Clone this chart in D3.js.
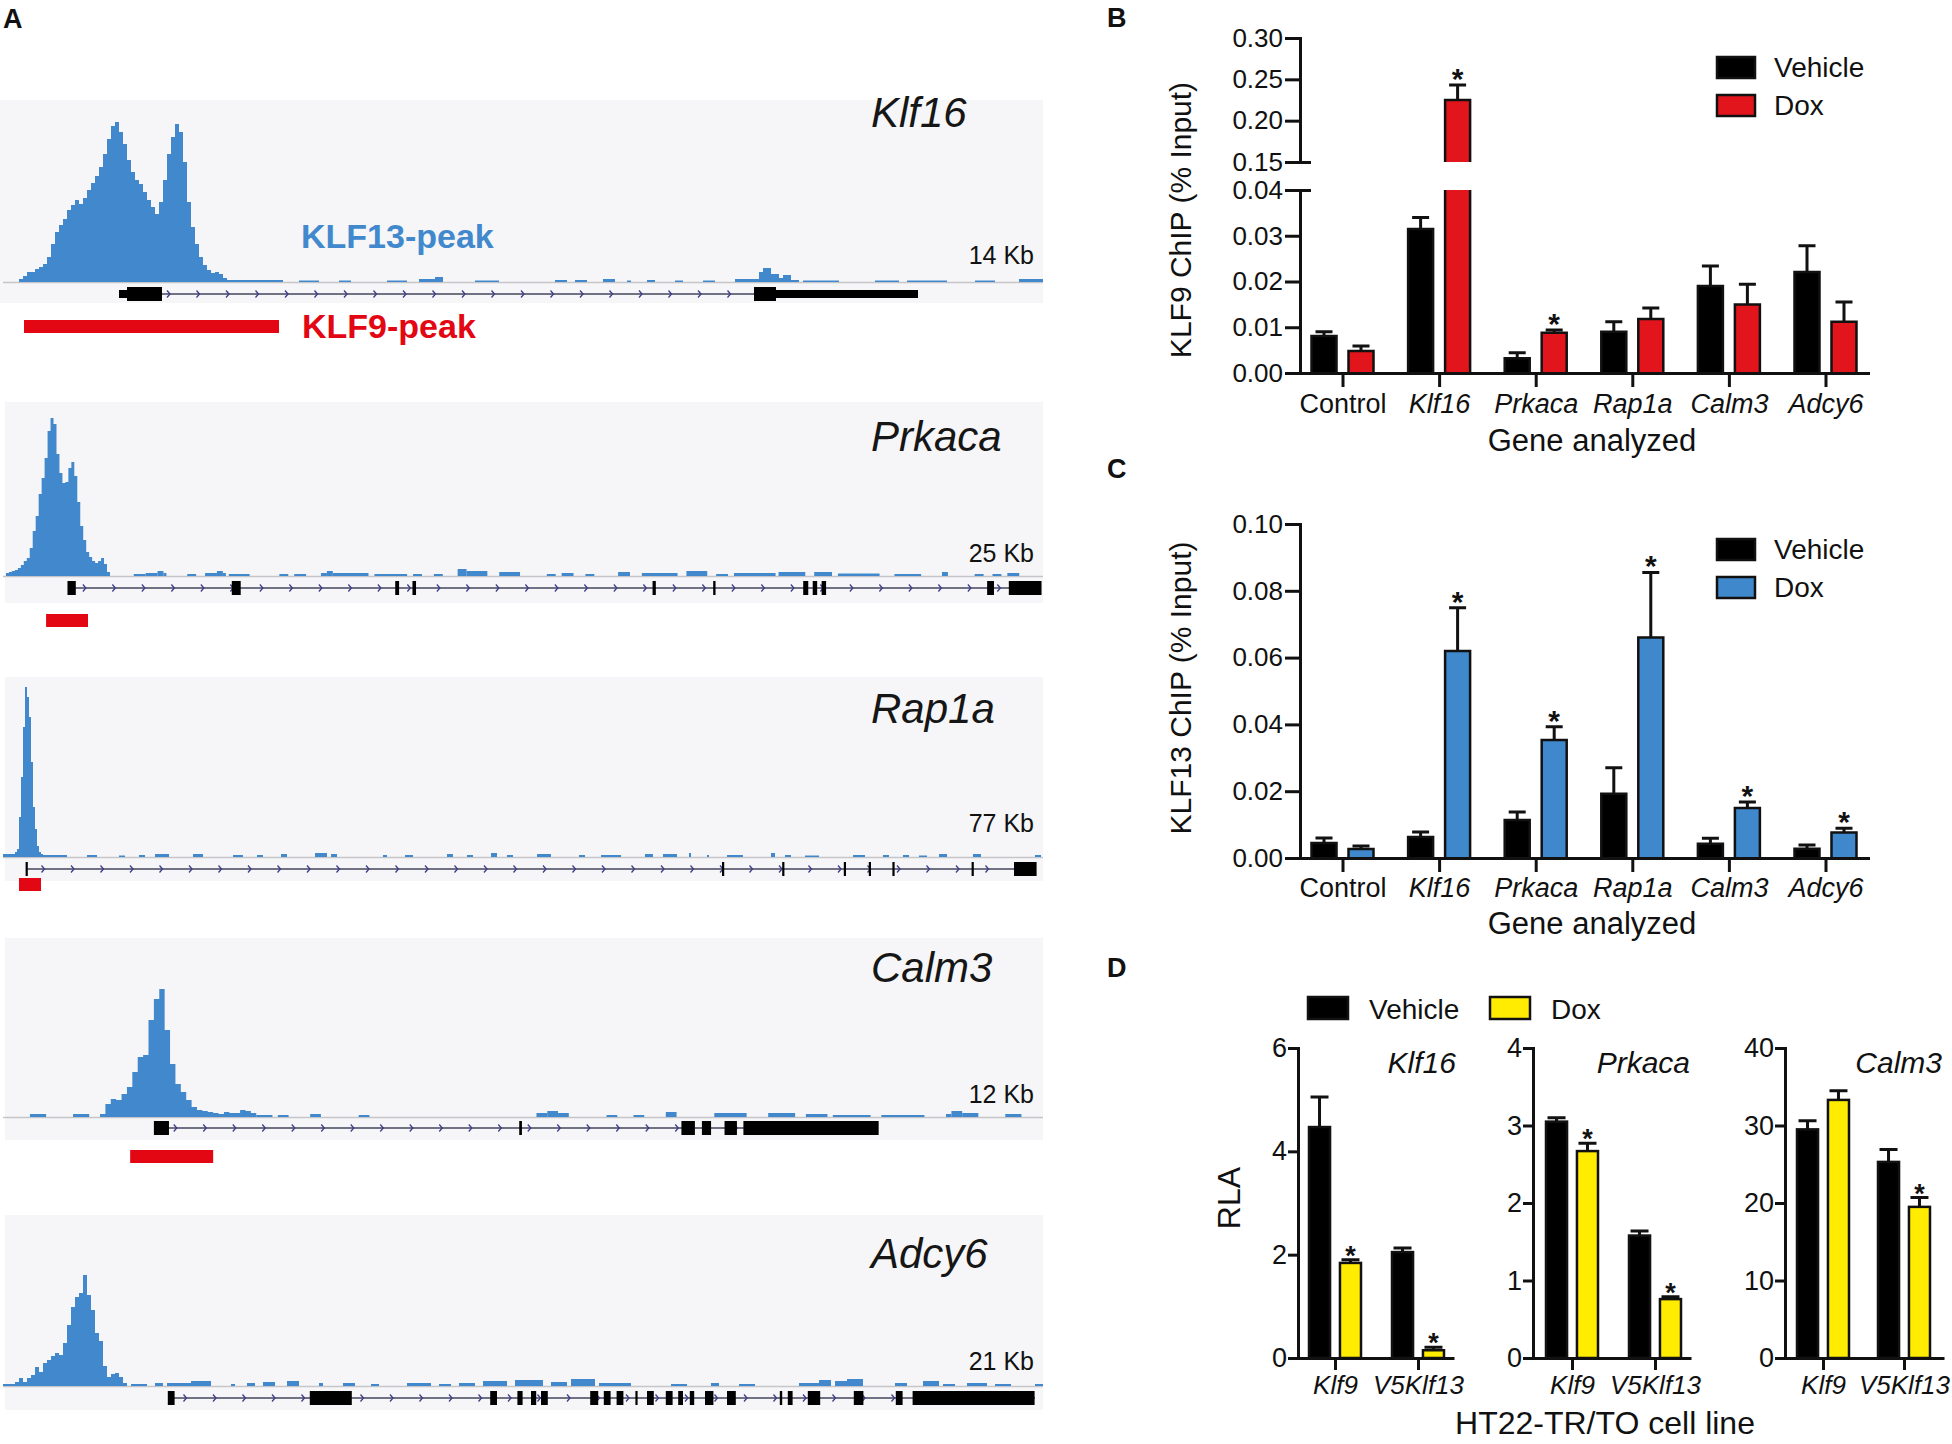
<!DOCTYPE html>
<html>
<head>
<meta charset="utf-8" />
<title>KLF9 / KLF13 binding</title>
<script src="https://cdn.jsdelivr.net/npm/d3@7"></script>
<style>
  body { margin: 0; background: #fff; }
  svg text { font-family: "Liberation Sans", Arial, Helvetica, sans-serif; }
</style>
</head>
<body>
<svg id="fig" width="1952" height="1444"></svg>
<script>
// ---------- panel A : coverage tracks (bins) ----------
const klf16Peak = [3,6,10,10,13,15,18,25,38,50,57,63,72,77,82,78,84,92,99,106,115,128,143,156,160,150,138,122,110,102,98,90,82,75,68,80,102,128,145,158,150,120,80,55,38,25,17,12,9,10,8,4,2,2];
const klf16Noise = [[58,70,2],[74,79,1.5],[84,87,1.5],[96,101,1.5],[104,108,3],[108,110,5],[118,124,1.5],[138,141,2],[143,146,2],[150,153,3],[156,157,1.5],[161,163,2],[168,170,1.5],[175,178,1.5],[183,189,3],[189,190,10],[190,192,14],[192,194,8],[194,195,4],[195,197,7],[197,199,2],[200,209,1.5],[218,224,1.5],[226,236,1.5],[243,248,1.5],[254,260,3]];
const klf16Exons = [[29,31,"u"],[31,39.75,"c"],[187.75,193.25,"c"],[193.25,228.75,"u"]];

const prkacaPeak = [3,4,5,6,8,11,15,18,28,45,60,82,98,118,145,158,152,122,103,93,94,108,114,100,74,50,36,24,19,15,13,15,18,12,4];
const prkacaNoise = [[44,48,2],[48,52,3],[52,54,5],[54,55,3],[62,65,2],[68,72,3],[72,74,5],[74,75,3],[76,83,2],[93,96,2],[98,102,2],[107,109,3],[109,111,5],[111,123,3],[125,136,2],[138,141,2],[145,148,2],[153,156,7],[156,163,5],[167,174,4],[183,186,2],[188,192,3],[196,199,2],[207,211,4],[215,227,3],[230,237,5],[240,244,2],[246,260,3],[261,270,4],[273,279,4],[281,295,2.5],[300,309,2],[316,318,4],[327,330,2],[333,336,2],[338,342,3]];
const prkacaExons = [[21.7,24.5,"c"],[77,80,"c"],[132,133.3,"c"],[137.8,139,"c"],[218.6,219.7,"c"],[239,239.8,"c"],[269.3,271,"c"],[272.5,274,"c"],[275.5,277,"c"],[331.2,333.5,"c"],[338.5,349.5,"c"]];

const rap1aPeak = [3,5,8,40,80,130,170,160,140,95,50,28,11,5,3];
const rap1aNoise = [[0,5,3],[19,32,2],[42,47,2],[58,61,1.5],[68,71,2],[76,83,3],[95,100,3],[115,120,2],[127,130,2],[139,142,3],[156,162,4],[164,167,3],[190,192,2],[201,205,2],[222,225,3],[232,235,2],[244,247,4],[252,255,2],[267,274,3],[288,291,2],[299,309,2],[321,325,3],[330,337,3],[343,344,4],[352,353,2],[362,370,2],[384,386,4],[391,394,2],[401,408,1.5],[425,431,2],[440,443,2],[450,453,2],[458,462,1.5],[468,472,3],[485,489,3],[516,519,2]];
const rap1aExons = [[11.3,12,"c"],[359.5,360.3,"c"],[389.6,390.4,"c"],[420.4,421.2,"c"],[432.9,433.7,"c"],[444.7,445.5,"c"],[484.3,485.1,"c"],[505.5,516.8,"c"]];

const calm3Peak = [3,13,18,17,23,30,45,60,62,97,118,128,87,53,33,25,17,10,7,6,5,4,3,5,4,4,7,6,4];
const calm3Noise = [[5,8,3],[13,16,3],[47,50,2],[51,53,2],[57,59,3],[66,68,2],[99,101,4],[101,103,6],[103,105,4],[112,114,2],[117,119,2],[123,125,5],[132,138,4],[142,147,4],[149,153,3],[154,161,2],[163,171,2],[175,176,3],[176,178,6],[178,181,4],[186,189,3]];
const calm3Exons = [[28,30.8,"c"],[95.8,96.3,"c"],[125.9,128.4,"c"],[129.7,131.4,"c"],[133.9,136.2,"c"],[137.4,162.5,"c"]];

const adcy6Peak = [2,2,2,4,8,4,8,11,19,14,23,26,30,33,31,43,61,79,89,93,111,91,76,53,45,20,9,12,13,9,3];
const adcy6Noise = [[32,36,2],[38,40,3],[41,47,3],[47,52,5],[57,58,2],[61,63,3],[65,68,4],[71,74,5],[79,80,3],[85,88,3],[92,94,2],[101,107,3],[109,112,2],[114,118,3],[120,126,5],[128,135,6],[137,141,4],[142,148,7],[149,157,3],[167,171,2],[177,179,3],[184,188,2],[199,204,3],[204,207,6],[208,211,5],[211,215,7],[223,226,3],[230,234,5],[235,238,2],[241,246,3],[248,252,2],[258,260,2]];
const adcy6Exons = [[41.2,42.9,"c"],[76.7,87.2,"c"],[121.8,123.5,"c"],[128.6,129.9,"c"],[132,133.3,"c"],[134.5,136.2,"c"],[146.8,148.8,"c"],[150.2,151.9,"c"],[153.4,155.1,"c"],[158.1,158.5,"c"],[161,162.7,"c"],[165.7,167.4,"c"],[168.8,170,"c"],[171.7,172.8,"c"],[175.5,177.6,"c"],[181,183.2,"c"],[194.2,194.8,"c"],[196.2,197.4,"c"],[201.2,204.3,"c"],[212.7,215.1,"c"],[223.2,224.9,"c"],[227.4,257.9,"c"]];

const trackGenes = ["Klf16", "Prkaca", "Rap1a", "Calm3", "Adcy6"];
const trackSpans = ["14 Kb", "25 Kb", "77 Kb", "12 Kb", "21 Kb"];
const trackBins = [260, 350, 520, 193, 260];
const peakStarts = [4, 1, 5, 18, 0];
const peaks = [klf16Peak, prkacaPeak, rap1aPeak, calm3Peak, adcy6Peak];
const noises = [klf16Noise, prkacaNoise, rap1aNoise, calm3Noise, adcy6Noise];
const exons = [klf16Exons, prkacaExons, rap1aExons, calm3Exons, adcy6Exons];
const introns = [[30,228], [22,349], [12,516], [29,137.5], [41.5,258]];
const klf9Peaks = [[5.25,69], [14.5,28.6], [8,19], [23.6,39], null];

// ---------- panels B, C : ChIP ----------
const genes = ["Control", "Klf16", "Prkaca", "Rap1a", "Calm3", "Adcy6"];
const conds = ["Vehicle", "Dox"];
const klf9Veh    = [0.0081, 0.0315, 0.0032, 0.0090, 0.0190, 0.0221];
const klf9VehSem = [0.0009, 0.0025, 0.0012, 0.0022, 0.0044, 0.0057];
const klf9Dox    = [0.0048, 0.225, 0.0088, 0.0118, 0.0150, 0.0112];
const klf9DoxSem = [0.0011, 0.018, 0.0006, 0.0024, 0.0044, 0.0043];
const klf9DoxStar = [false, true, true, false, false, false];
const klf9TicksLow = [0, 0.01, 0.02, 0.03, 0.04];
const klf9TicksUp = [0.15, 0.20, 0.25, 0.30];

const klf13Veh    = [0.0045, 0.0063, 0.0114, 0.0192, 0.0043, 0.0028];
const klf13VehSem = [0.0015, 0.0015, 0.0024, 0.0078, 0.0016, 0.0011];
const klf13Dox    = [0.0027, 0.062, 0.0353, 0.066, 0.0150, 0.0076];
const klf13DoxSem = [0.0009, 0.0129, 0.0040, 0.0195, 0.0018, 0.0013];
const klf13DoxStar = [false, true, true, true, true, true];
const klf13Ticks = [0, 0.02, 0.04, 0.06, 0.08, 0.10];

// ---------- panel D : RLA ----------
const targets = ["Klf9", "V5Klf13"];
const rlaGenes = ["Klf16", "Prkaca", "Calm3"];
const rlaTicks = [[0,2,4,6], [0,1,2,3,4], [0,10,20,30,40]];
const rlaVeh    = [[4.47, 2.05], [3.05, 1.58], [29.5, 25.3]];
const rlaVehSem = [[0.58, 0.08], [0.05, 0.06], [1.1, 1.6]];
const rlaDox    = [[1.84, 0.15], [2.67, 0.76], [33.3, 19.5]];
const rlaDoxSem = [[0.06, 0.06], [0.10, 0.03], [1.2, 1.2]];
const rlaDoxStar = [[true, true], [true, true], [false, true]];

// ---------- drawing ----------
const INK = "#111";
const BLUE = "#4189cc";
const RED = "#e30613";
const YELLOW = "#ffec00";
const svg = d3.select("#fig");

function txt(g, x, y, s, o = {}) {
  return g.append("text").attr("x", x).attr("y", y).text(s)
    .attr("font-size", o.size || 27)
    .attr("font-style", o.italic ? "italic" : null)
    .attr("font-weight", o.bold ? "bold" : null)
    .attr("text-anchor", o.anchor || "start")
    .attr("fill", o.color || INK);
}

function styleAxis(sel, size) {
  sel.attr("font-family", null).attr("font-size", size);
  sel.select(".domain").attr("stroke", INK).attr("stroke-width", 3).attr("stroke-linecap", "square");
  sel.selectAll(".tick line").attr("stroke", INK).attr("stroke-width", 3);
  sel.selectAll(".tick text").attr("fill", INK);
}

// panel labels
txt(svg, 3, 28, "A", { bold: true, size: 27 });
txt(svg, 1107, 27, "B", { bold: true, size: 27 });
txt(svg, 1107, 478, "C", { bold: true, size: 27 });
txt(svg, 1107, 977, "D", { bold: true, size: 27 });

// ---- A ----
const trackLayout = [
  { top: 100, bottom: 303, base: 282, gene: 294, label: 127, span: 264, red: 320, left: 0 },
  { top: 402, bottom: 603, base: 576, gene: 588, label: 451, span: 562, red: 614, left: 5 },
  { top: 677, bottom: 881, base: 857, gene: 869, label: 723, span: 832, red: 878, left: 5 },
  { top: 938, bottom: 1140, base: 1117, gene: 1128, label: 982, span: 1103, red: 1150, left: 5 },
  { top: 1215, bottom: 1410, base: 1386, gene: 1398, label: 1268, span: 1370, red: null, left: 5 }
];
const covY = d3.scaleLinear().domain([0, 170]).range([0, 170]);
const A = svg.append("g");

trackGenes.forEach((name, i) => {
  const L = trackLayout[i];
  const x = d3.scaleLinear().domain([0, trackBins[i]]).range([3, 1043]);
  const g = A.append("g");

  g.append("rect").attr("x", L.left).attr("y", L.top)
    .attr("width", 1043 - L.left).attr("height", L.bottom - L.top).attr("fill", "#f6f6f8");
  g.append("line").attr("x1", 3).attr("x2", 1043).attr("y1", L.base + 0.5).attr("y2", L.base + 0.5)
    .attr("stroke", "#c6c6ca").attr("stroke-width", 1.6);

  g.append("g").selectAll("rect").data(noises[i]).join("rect")
    .attr("x", d => x(d[0])).attr("width", d => x(d[1]) - x(d[0]))
    .attr("y", d => L.base - covY(d[2])).attr("height", d => covY(d[2]))
    .attr("fill", BLUE);

  const pts = peaks[i].map((h, j) => [peakStarts[i] + j, h]);
  pts.push([peakStarts[i] + peaks[i].length, 0]);
  const area = d3.area().curve(d3.curveStepAfter)
    .x(d => x(d[0])).y0(L.base).y1(d => L.base - covY(d[1]));
  g.append("path").datum(pts).attr("d", area).attr("fill", BLUE);

  // gene model
  const [i0, i1] = introns[i];
  g.append("line").attr("x1", x(i0)).attr("x2", x(i1)).attr("y1", L.gene).attr("y2", L.gene)
    .attr("stroke", "#44445e").attr("stroke-width", 1.5);
  g.append("g").selectAll("path").data(d3.range(x(i0) + 16, x(i1) - 4, 29.5)).join("path")
    .attr("d", p => `M${p - 1.5},${L.gene - 3.5}L${p + 1.5},${L.gene}L${p - 1.5},${L.gene + 3.5}`)
    .attr("fill", "none").attr("stroke", "#3c3c8c").attr("stroke-width", 1.3);
  g.append("g").selectAll("rect").data(exons[i]).join("rect")
    .attr("x", d => x(d[0])).attr("width", d => Math.max(2.2, x(d[1]) - x(d[0])))
    .attr("y", d => L.gene - (d[2] === "c" ? 7 : 4)).attr("height", d => d[2] === "c" ? 14 : 8)
    .attr("fill", "#000");

  if (klf9Peaks[i]) {
    g.append("rect").attr("x", x(klf9Peaks[i][0])).attr("y", L.red)
      .attr("width", x(klf9Peaks[i][1]) - x(klf9Peaks[i][0])).attr("height", 13).attr("fill", RED);
  }
  txt(g, 871, L.label, name, { italic: true, size: 42, color: "#161616" });
  txt(g, 1034, L.span, trackSpans[i], { size: 25, anchor: "end" });
});
txt(A, 301, 248, "KLF13-peak", { bold: true, size: 34, color: BLUE });
txt(A, 302, 338, "KLF9-peak", { bold: true, size: 34, color: RED });

// ---- B & C ----
const xChip = d3.scalePoint().domain(genes).range([1300, 1868]).padding(0.44);
const subChip = d3.scaleBand().domain(conds).range([-31, 31]).paddingInner(0.324);

function chipBars(g, veh, vehSem, dox, doxSem, stars, yOf, doxColor, broken) {
  const rows = genes.flatMap((gene, i) => [
    { gene, cond: "Vehicle", v: veh[i], e: vehSem[i], star: false },
    { gene, cond: "Dox", v: dox[i], e: doxSem[i], star: stars[i] }
  ]);
  const bw = subChip.bandwidth();
  rows.forEach(r => {
    const x0 = xChip(r.gene) + subChip(r.cond), x1 = x0 + bw, xc = x0 + bw / 2;
    const fill = r.cond === "Vehicle" ? "#000" : doxColor;
    const segs = broken && r.v > broken.lowMax
      ? [[yOf(r.v), broken.upBottom, "top"], [broken.lowTop, yOf(0), "mid"]]
      : [[yOf(r.v), yOf(0), "top"]];
    segs.forEach(([t, b, kind]) => {
      g.append("rect").attr("x", x0).attr("y", t).attr("width", bw).attr("height", b - t).attr("fill", fill);
      const d = kind === "top" ? `M${x0},${b}V${t}H${x1}V${b}` : `M${x0},${t}V${b}M${x1},${t}V${b}`;
      g.append("path").attr("d", d).attr("fill", "none").attr("stroke", INK).attr("stroke-width", 2.5);
    });
    const yt = yOf(r.v + r.e);
    g.append("path").attr("d", `M${xc},${yOf(r.v)}V${yt}M${xc - 8.5},${yt}H${xc + 8.5}`)
      .attr("stroke", INK).attr("stroke-width", 3).attr("fill", "none");
    if (r.star) txt(g, xc, yt + 4, "*", { size: 30, bold: true, anchor: "middle" });
  });
}

function chipXAxis(g, yBase, pad) {
  const ax = g.append("g").attr("transform", `translate(0,${yBase})`)
    .call(d3.axisBottom(xChip).tickSize(14).tickSizeOuter(0).tickPadding(pad));
  styleAxis(ax, 27);
  ax.selectAll(".tick text").attr("font-style", d => d === "Control" ? null : "italic");
}

function chipLegend(g, y0, doxColor) {
  [["Vehicle", "#000", y0], ["Dox", doxColor, y0 + 38]].forEach(([lab, c, y]) => {
    g.append("rect").attr("x", 1717).attr("y", y).attr("width", 38).attr("height", 21)
      .attr("fill", c).attr("stroke", INK).attr("stroke-width", 2.5);
    txt(g, 1774, y + 20, lab, { size: 28 });
  });
}

// B
const B = svg.append("g");
const yLowB = d3.scaleLinear().domain([0, 0.04]).range([373, 190]);
const yUpB = d3.scaleLinear().domain([0.15, 0.30]).range([162, 38]);
const yB = v => v <= 0.04 ? yLowB(v) : yUpB(v);
chipBars(B, klf9Veh, klf9VehSem, klf9Dox, klf9DoxSem, klf9DoxStar, yB, "#e2141c",
  { lowMax: 0.04, upBottom: 162, lowTop: 190 });
[[yLowB, klf9TicksLow], [yUpB, klf9TicksUp]].forEach(([s, tv]) => {
  const ax = B.append("g").attr("transform", "translate(1300,0)")
    .call(d3.axisLeft(s).tickValues(tv).tickFormat(d3.format(".2f")).tickSize(15).tickSizeOuter(0).tickPadding(2));
  styleAxis(ax, 26);
});
[162, 190].forEach(y => B.append("line").attr("x1", 1300).attr("x2", 1311).attr("y1", y + 0.5).attr("y2", y + 0.5)
  .attr("stroke", INK).attr("stroke-width", 3));
chipXAxis(B, 373, 7);
txt(B, 1592, 451, "Gene analyzed", { size: 31, anchor: "middle" });
txt(B, 0, 0, "KLF9 ChIP (% Input)", { size: 30, anchor: "middle" })
  .attr("transform", "translate(1191,220) rotate(-90)");
chipLegend(B, 57, "#e2141c");

// C
const C = svg.append("g");
const yC = d3.scaleLinear().domain([0, 0.10]).range([858, 524]);
chipBars(C, klf13Veh, klf13VehSem, klf13Dox, klf13DoxSem, klf13DoxStar, yC, "#3f88cc", null);
styleAxis(C.append("g").attr("transform", "translate(1300,0)")
  .call(d3.axisLeft(yC).tickValues(klf13Ticks).tickFormat(d3.format(".2f")).tickSize(15).tickSizeOuter(0).tickPadding(2)), 26);
chipXAxis(C, 858, 6);
txt(C, 1592, 934, "Gene analyzed", { size: 31, anchor: "middle" });
txt(C, 0, 0, "KLF13 ChIP (% Input)", { size: 30, anchor: "middle" })
  .attr("transform", "translate(1191,688) rotate(-90)");
chipLegend(C, 539, "#3f88cc");

// ---- D ----
const D = svg.append("g");
const dLayout = [
  { axis: 1298, t1: 1335, t2: 1418, end: 1453, title: 1456 },
  { axis: 1533, t1: 1572, t2: 1655, end: 1690, title: 1690 },
  { axis: 1785, t1: 1823, t2: 1904, end: 1943, title: 1942 }
];
const subD = d3.scaleBand().domain(conds).range([-26, 26]).paddingInner(0.32);
rlaGenes.forEach((gname, k) => {
  const L = dLayout[k];
  const g = D.append("g");
  const ticks = rlaTicks[k];
  const y = d3.scaleLinear().domain([0, ticks[ticks.length - 1]]).range([1358, 1048]);
  const x = d3.scalePoint().domain(targets).range([L.t1, L.t2]);
  const bw = subD.bandwidth();
  targets.forEach((t, j) => {
    [["Vehicle", rlaVeh[k][j], rlaVehSem[k][j], false, "#000"],
     ["Dox", rlaDox[k][j], rlaDoxSem[k][j], rlaDoxStar[k][j], YELLOW]].forEach(([c, v, e, star, fill]) => {
      const x0 = x(t) + subD(c), xc = x0 + bw / 2, yt = y(v + e);
      g.append("path").attr("d", `M${xc},${y(v)}V${yt}M${xc - 9},${yt}H${xc + 9}`)
        .attr("stroke", INK).attr("stroke-width", 3).attr("fill", "none");
      g.append("rect").attr("x", x0).attr("y", y(v)).attr("width", bw).attr("height", y(0) - y(v))
        .attr("fill", fill).attr("stroke", INK).attr("stroke-width", 2.5);
      if (star) txt(g, xc, yt + 5, "*", { size: 27, bold: true, anchor: "middle" });
    });
  });
  styleAxis(g.append("g").attr("transform", `translate(${L.axis},0)`)
    .call(d3.axisLeft(y).tickValues(ticks).tickFormat(d3.format("d")).tickSize(10).tickSizeOuter(0).tickPadding(1)), 27);
  const xa = g.append("g").attr("transform", "translate(0,1358)")
    .call(d3.axisBottom(x).tickSize(12).tickPadding(6));
  styleAxis(xa, 26);
  xa.select(".domain").remove();
  xa.selectAll(".tick text").attr("font-style", "italic");
  g.append("line").attr("x1", L.axis).attr("x2", L.end).attr("y1", 1358.5).attr("y2", 1358.5)
    .attr("stroke", INK).attr("stroke-width", 3).attr("stroke-linecap", "square");
  txt(g, L.title, 1073, gname, { italic: true, size: 30, anchor: "end" });
});
[["Vehicle", "#000", 1308, 1369], ["Dox", YELLOW, 1490, 1551]].forEach(([lab, c, rx, tx]) => {
  D.append("rect").attr("x", rx).attr("y", 997).attr("width", 40).attr("height", 22)
    .attr("fill", c).attr("stroke", INK).attr("stroke-width", 2.5);
  txt(D, tx, 1019, lab, { size: 28 });
});
txt(D, 0, 0, "RLA", { size: 32, anchor: "middle" }).attr("transform", "translate(1240,1198) rotate(-90)");
txt(D, 1605, 1434, "HT22-TR/TO cell line", { size: 32, anchor: "middle" });
</script>
</body>
</html>
